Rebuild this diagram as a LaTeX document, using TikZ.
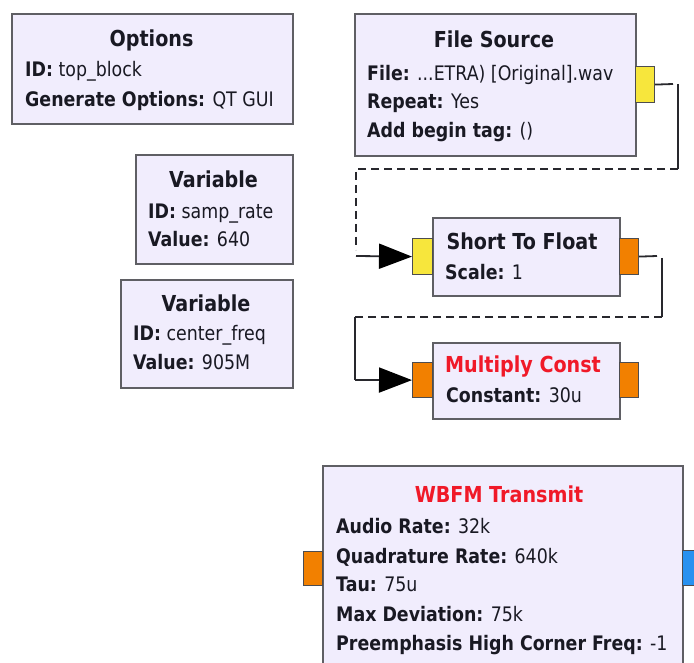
\documentclass[tikz,border=0pt]{standalone}
\usepackage{fontspec}
\setmainfont{DejaVu Sans}[FakeStretch=0.87]
\usetikzlibrary{arrows.meta}
\definecolor{blkfill}{RGB}{241,237,253}
\definecolor{blkdraw}{RGB}{95,95,100}
\definecolor{portyel}{RGB}{247,230,60}
\definecolor{portorg}{RGB}{242,128,0}
\definecolor{portblu}{RGB}{40,145,240}
\definecolor{titred}{RGB}{240,25,40}
\definecolor{txt}{RGB}{25,25,35}
\definecolor{wirec}{RGB}{40,40,45}
\tikzset{
  blk/.style={draw=blkdraw, fill=blkfill, line width=1.8pt, inner sep=0pt, anchor=north west},
  port/.style={draw=blkdraw!80!black, line width=1.2pt, inner sep=0pt, anchor=north west},
  ttl/.style={inner sep=0pt, anchor=mid, yshift=-5pt, font=\fontsize{22}{24}\selectfont\bfseries, text=txt},
  ttlred/.style={ttl, text=titred},
  prm/.style={inner sep=0pt, anchor=mid west, yshift=-5pt, font=\fontsize{20}{22}\selectfont, text=txt},
  wire/.style={draw=wirec, line width=1.8pt},
  dwire/.style={wire, dash pattern=on 8pt off 5pt},
  tip/.style={-{Triangle[length=33pt,width=25pt,color=black]}}
}
\begin{document}
\begin{tikzpicture}[x=1pt,y=-1pt]
\clip (0,0) rectangle (694,663);
\fill[white] (0,0) rectangle (694,663);

% Options
\node[blk, minimum width=281pt, minimum height=110pt] (opt) at (11,13) {};
\node[ttl] (optt) at (151.5,39) {Options};
\node[prm] (optl1) at (25,69) {\textbf{ID:} top\_block};
\node[prm] (optl2) at (25,99) {\textbf{Generate Options:} QT GUI};

% Variable 1
\node[blk, minimum width=157pt, minimum height=109pt] (var1) at (135,154) {};
\node[ttl] (var1t) at (213.5,180) {Variable};
\node[prm] (var1l1) at (148,211) {\textbf{ID:} samp\_rate};
\node[prm] (var1l2) at (148,239) {\textbf{Value:} 640};

% Variable 2
\node[blk, minimum width=172pt, minimum height=108pt] (var2) at (120,279) {};
\node[ttl] (var2t) at (206,304) {Variable};
\node[prm] (var2l1) at (133,333) {\textbf{ID:} center\_freq};
\node[prm] (var2l2) at (133,362) {\textbf{Value:} 905M};

% File Source
\node[blk, minimum width=281pt, minimum height=142pt] (fs) at (354,13) {};
\node[ttl] (fst) at (494,40) {File Source};
\node[prm] (fsl1) at (367,73) {\textbf{File:} ...ETRA) [Original].wav};
\node[prm] (fsl2) at (367,101) {\textbf{Repeat:} Yes};
\node[prm] (fsl3) at (367,130) {\textbf{Add begin tag:} ()};
\node[port, fill=portyel, minimum width=19pt, minimum height=36pt] (fsout) at (635,66) {};

% Short To Float
\node[blk, minimum width=187pt, minimum height=78pt] (sf) at (432,217) {};
\node[ttl] (sft) at (522,242) {Short To Float};
\node[prm] (sfl1) at (445,272) {\textbf{Scale:} 1};
\node[port, fill=portyel, minimum width=20pt, minimum height=36pt] (sfin) at (412,238) {};
\node[port, fill=portorg, minimum width=19pt, minimum height=36pt] (sfout) at (619,238) {};

% Multiply Const
\node[blk, minimum width=187pt, minimum height=76pt] (mc) at (432,342) {};
\node[ttlred] (mct) at (523,365) {Multiply Const};
\node[prm] (mcl1) at (446,395) {\textbf{Constant:} 30u};
\node[port, fill=portorg, minimum width=20pt, minimum height=35pt] (mcin) at (412,362) {};
\node[port, fill=portorg, minimum width=19pt, minimum height=35pt] (mcout) at (619,362) {};

% WBFM Transmit
\node[blk, minimum width=360pt, minimum height=240pt] (wb) at (322,465) {};
\node[ttlred] (wbt) at (499,495) {WBFM Transmit};
\node[prm] (wbl1) at (336,526) {\textbf{Audio Rate:} 32k};
\node[prm] (wbl2) at (336,556) {\textbf{Quadrature Rate:} 640k};
\node[prm] (wbl3) at (336,584) {\textbf{Tau:} 75u};
\node[prm] (wbl4) at (336,614) {\textbf{Max Deviation:} 75k};
\node[prm] (wbl5) at (336,643) {\textbf{Preemphasis High Corner Freq:} -1};
\node[port, fill=portorg, minimum width=19pt, minimum height=34pt] (wbin) at (303,551) {};
\node[port, fill=portblu, minimum width=20pt, minimum height=35pt] (wbout) at (682,550) {};

% connection File Source -> Short To Float
\coordinate (a1) at (673,84);
\coordinate (a2) at (678,84);
\coordinate (a3) at (678,169);
\coordinate (a4) at (356,169);
\coordinate (a5) at (356,250);
\coordinate (a6) at (356,256);
\draw[wire] (fsout.east) -- (a1);
\draw[wire] (a2) -- (a3);
\draw[dwire] (a3) -- (a4) -- (a5);
\draw[wire, tip] (a6) -- (sfin.west);

% connection Short To Float -> Multiply Const
\coordinate (b1) at (657,256);
\coordinate (b2) at (662,258);
\coordinate (b3) at (662,317);
\coordinate (b4) at (355,317);
\coordinate (b5) at (355,380);
\draw[wire] (sfout.east) -- (b1);
\draw[wire] (b2) -- (b3);
\draw[dwire] (b3) -- (b4);
\draw[wire] (b4) -- (b5);
\draw[wire, tip] (b5) -- (mcin.west);
\end{tikzpicture}
\end{document}
